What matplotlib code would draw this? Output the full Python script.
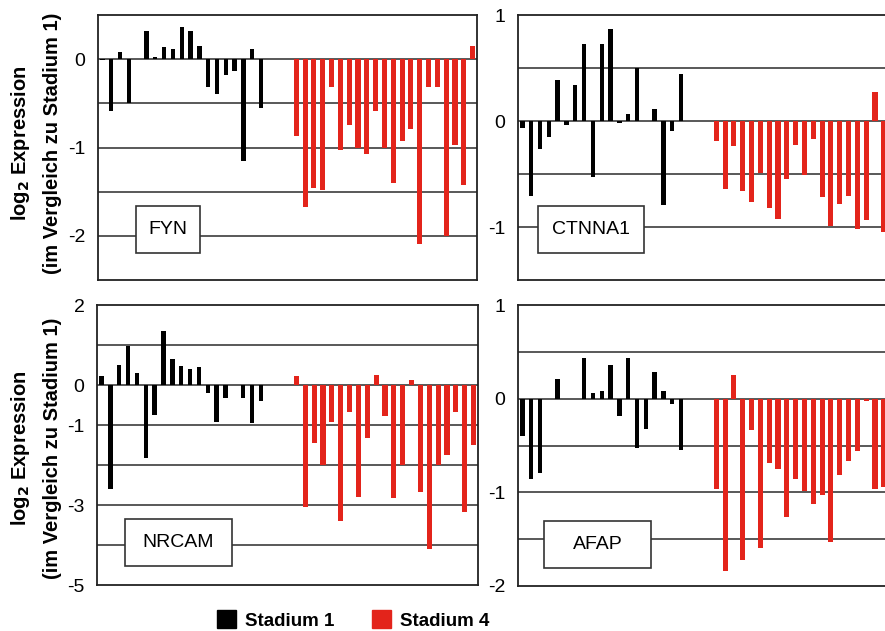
import numpy as np
import matplotlib
matplotlib.use("Agg")
import matplotlib.pyplot as plt
from matplotlib.patches import Rectangle, Patch

plt.rcParams['font.family'] = ['Liberation Sans', 'DejaVu Sans']

BLACK = '#000000'
RED = '#e3241b'
GRID = '#3c3c3c'

# log2 expression, black = Stadium 1 samples, red = Stadium 4 samples
fyn_s1 = [-0.015, -0.59, 0.08, -0.50, 0, 0.32, 0.02, 0.135, 0.12, 0.36,
          0.32, 0.15, -0.31, -0.39, -0.18, -0.13, -1.15, 0.12, -0.55]
fyn_s4 = [-0.87, -1.67, -1.46, -1.48, -0.32, -1.03, -0.74, -1.00, -1.07, -0.59,
          -1.00, -1.40, -0.93, -0.79, -2.09, -0.31, -0.31, -2.00, -0.97, -1.42, 0.15]

ctnna1_s1 = [-0.07, -0.71, -0.26, -0.15, 0.39, -0.04, 0.34, 0.73, -0.53, 0.73,
             0.87, -0.02, 0.07, 0.50, 0, 0.11, -0.79, -0.09, 0.44]
ctnna1_s4 = [-0.19, -0.64, -0.24, -0.66, -0.76, -0.49, -0.82, -0.92, -0.55, -0.23,
             -0.51, -0.17, -0.72, -0.99, -0.78, -0.71, -1.02, -0.93, 0.27, -1.05]

nrcam_s1 = [0.22, -2.60, 0.49, 0.97, 0.29, -1.83, -0.74, 1.34, 0.66, 0.47,
            0.40, 0.45, -0.20, -0.92, -0.33, 0, -0.33, -0.96, -0.41]
nrcam_s4 = [0.22, -3.04, -1.45, -1.99, -0.92, -3.41, -0.67, -2.79, -1.32, 0.26,
            -0.77, -2.83, -2.01, 0.12, -2.67, -4.10, -1.99, -1.76, -0.67, -3.17, -1.51]

afap_s1 = [-0.40, -0.86, -0.79, 0, 0.21, 0, 0, 0.43, 0.06, 0.08,
           0.36, -0.18, 0.43, -0.53, -0.32, 0.29, 0.08, -0.06, -0.55]
afap_s4 = [-0.96, -1.84, 0.25, -1.72, -0.33, -1.59, -0.69, -0.75, -1.26, -0.86,
           -0.99, -1.12, -1.03, -1.53, -0.82, -0.67, -0.56, -0.03, -0.96, -0.94]

genes = ['FYN', 'CTNNA1', 'NRCAM', 'AFAP']
panels = [
    # s1, s4, ylim, gridlines, tick labels
    (fyn_s1, fyn_s4, (-2.5, 0.5), [0, -0.5, -1, -1.5, -2], [0, -1, -2]),
    (ctnna1_s1, ctnna1_s4, (-1.5, 1), [0.5, 0, -0.5, -1], [1, 0, -1]),
    (nrcam_s1, nrcam_s4, (-5, 2), [1, 0, -1, -2, -3, -4], [2, 0, -1, -3, -5]),
    (afap_s1, afap_s4, (-2, 1), [0.5, 0, -0.5, -1, -1.5], [1, 0, -1, -2]),
]

W, H = 885, 631
fig = plt.figure(figsize=(W / 100, H / 100), dpi=100)

# axes rectangles in pixels: left, top, right, bottom
rects = [(98, 15, 477, 280), (518, 15, 897, 280),
         (97, 305, 478, 585), (518, 305, 897, 586)]
# gene label boxes in axes fraction: x0, y0, x1, y1
boxes = [(0.100, 0.102, 0.269, 0.279), (0.053, 0.102, 0.332, 0.279),
         (0.074, 0.068, 0.354, 0.236), (0.069, 0.064, 0.351, 0.232)]

for (s1, s4, ylim, grid, ticks), gene, r, b in zip(panels, genes, rects, boxes):
    l, t, rr, bt = r
    ax = fig.add_axes([l / W, 1 - bt / H, (rr - l) / W, (bt - t) / H])
    x1 = np.arange(1, len(s1) + 1)
    x4 = np.arange(23, 23 + len(s4))
    for g in grid:
        ax.axhline(g, color=GRID, lw=1.2, zorder=1)
    ax.bar(x1, s1, width=0.5, color=BLACK, zorder=2)
    ax.bar(x4, s4, width=0.58, color=RED, zorder=2)
    ax.set_xlim(0.5, 43.5)
    ax.set_ylim(*ylim)
    ax.set_xticks([])
    ax.set_yticks(ticks)
    ax.set_yticklabels([str(v) for v in ticks])
    ax.tick_params(axis='y', length=0, pad=9, labelsize=14)
    for sp in ax.spines.values():
        sp.set_color('#222222')
        sp.set_linewidth(1.3)
    ax.add_patch(Rectangle((b[0], b[1]), b[2] - b[0], b[3] - b[1],
                           transform=ax.transAxes, facecolor='white',
                           edgecolor='#333333', lw=1.2, zorder=4))
    ax.text((b[0] + b[2]) / 2, (b[1] + b[3]) / 2, gene, transform=ax.transAxes,
            ha='center', va='center', fontsize=14, zorder=5)

# y axis titles
for yc in (1 - 143 / H, 1 - 448 / H):
    fig.text(21 / W, yc, r'log$_\mathbf{2}$ Expression', rotation=90,
             ha='center', va='center', fontsize=14.5, fontweight='bold')
    fig.text(53 / W, yc, '(im Vergleich zu Stadium 1)', rotation=90,
             ha='center', va='center', fontsize=14.5, fontweight='bold')

handles = [Patch(facecolor=BLACK, edgecolor=BLACK),
           Patch(facecolor=RED, edgecolor=RED)]
fig.legend(handles, ['Stadium 1', 'Stadium 4'], loc='center',
           bbox_to_anchor=(353 / W, 1 - 620 / H), ncol=2, frameon=False,
           handlelength=1.0, handleheight=1.1, handletextpad=0.5,
           columnspacing=2.0, prop={'weight': 'bold', 'size': 13.5})

fig.savefig('out.png', dpi=100)
